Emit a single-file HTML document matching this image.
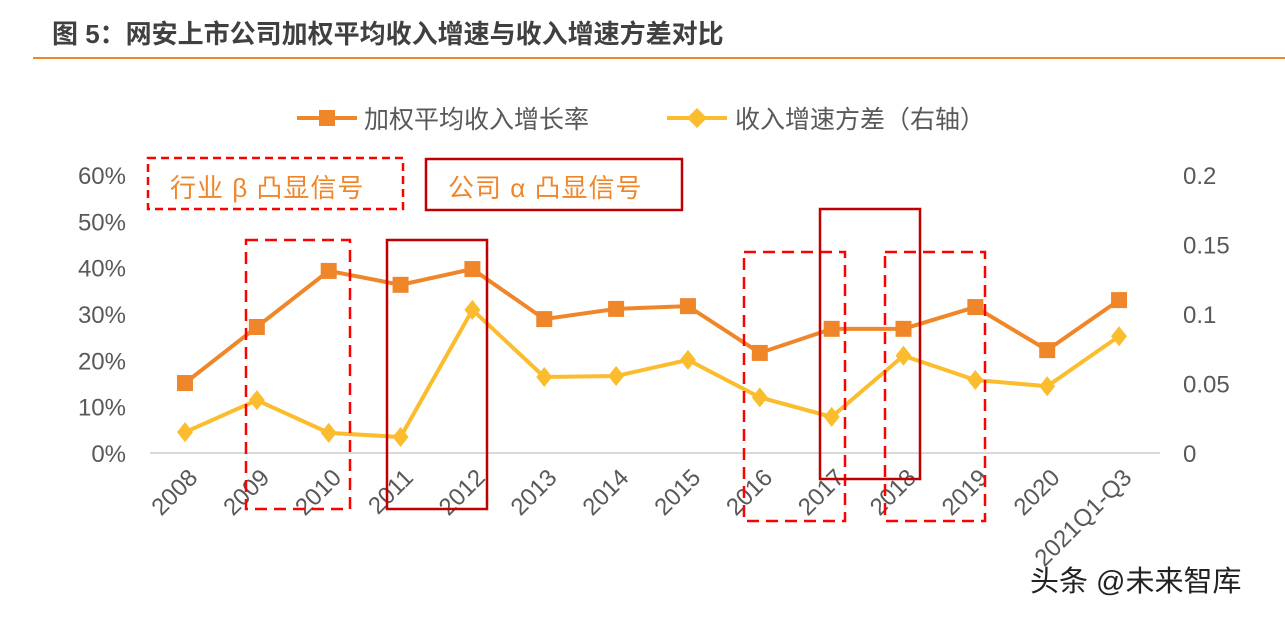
<!DOCTYPE html>
<html><head><meta charset="utf-8"><style>
body{margin:0;background:#fff;width:1285px;height:612px;overflow:hidden;font-family:"Liberation Sans","Noto Sans CJK SC",sans-serif}
</style></head><body>
<svg width="1285" height="612" font-family="Liberation Sans, Noto Sans CJK SC, sans-serif">
<text x="52" y="43" font-size="26" font-weight="bold" fill="#404040">图 5：网安上市公司加权平均收入增速与收入增速方差对比</text>
<line x1="33" y1="58" x2="1285" y2="58" stroke="#f0882a" stroke-width="2"/>
<g>
<g><line x1="297" y1="118" x2="357" y2="118" stroke="#f0862a" stroke-width="4"/><rect x="319" y="110" width="16" height="16" fill="#f0862a"/><text x="364" y="128" font-size="25" fill="#595959">加权平均收入增长率</text></g>
<g><line x1="667" y1="118" x2="727" y2="118" stroke="#fbbc2e" stroke-width="4"/><polygon points="697,108 707,118 697,128 687,118" fill="#fbbc2e"/><text x="735" y="128" font-size="25" fill="#595959">收入增速方差（右轴）</text></g>
</g>
<g><rect x="148" y="158" width="255" height="51" fill="none" stroke="#f00" stroke-width="2.5" stroke-dasharray="8,5"/><text x="170" y="197" font-size="26" fill="#f0862a" letter-spacing="1">行业 β 凸显信号</text></g>
<g><rect x="426" y="159" width="256" height="51" fill="none" stroke="#c00000" stroke-width="2.5"/><text x="448" y="197" font-size="26" fill="#f0862a" letter-spacing="1">公司 α 凸显信号</text></g>
<g id="plot"></g>
</svg>
<script>
const categories=["2008","2009","2010","2011","2012","2013","2014","2015","2016","2017","2018","2019","2020","2021Q1-Q3"];
const growthValues=[15.1,27.2,39.3,36.3,39.7,28.9,31.1,31.7,21.6,26.8,26.8,31.5,22.2,33.0];
const varianceValues=[0.015,0.038,0.0145,0.0115,0.103,0.0547,0.0554,0.067,0.040,0.026,0.070,0.0525,0.048,0.084];
const leftTicks=[0,10,20,30,40,50,60];
const rightTicks=[0,0.05,0.1,0.15,0.2];
const rightTickLabels=["0","0.05","0.1","0.15","0.2"];
const NS="http://www.w3.org/2000/svg";
const g=document.getElementById('plot');
const y0=453,yTop=175;
const yL=v=>y0-(v/60)*(y0-yTop);
const yR=v=>y0-(v/0.2)*(y0-yTop);
const xS=i=>185+i*71.85;
function mk(t,a,p){const e=document.createElementNS(NS,t);for(const k in a)e.setAttribute(k,a[k]);(p||g).appendChild(e);return e;}
let e=mk('line',{x1:150,x2:1160,y1:y0,y2:y0,stroke:'#d9d9d9','stroke-width':2});


leftTicks.forEach(v=>{const t=mk('text',{x:126,y:yL(v)+9,'font-size':24,fill:'#595959','text-anchor':'end'});t.textContent=v+'%';

});
rightTicks.forEach((v,i)=>{const t=mk('text',{x:1183,y:yR(v)+9,'font-size':24,fill:'#595959'});t.textContent=rightTickLabels[i];

});
categories.forEach((c,i)=>{const x=xS(i)+14,y=y0+26;const t=mk('text',{x:x,y:y,'font-size':24,fill:'#595959','text-anchor':'end',transform:`rotate(-45 ${x} ${y})`});t.textContent=c;

});
e=mk('polyline',{points:varianceValues.map((v,i)=>xS(i)+','+yR(v)).join(' '),fill:'none',stroke:'#fbbc2e','stroke-width':4});


varianceValues.forEach((v,i)=>{const x=xS(i),y=yR(v);const p=mk('polygon',{points:`${x},${y-10} ${x+8},${y} ${x},${y+10} ${x-8},${y}`,fill:'#fbbc2e'});

});
e=mk('polyline',{points:growthValues.map((v,i)=>xS(i)+','+yL(v)).join(' '),fill:'none',stroke:'#f0862a','stroke-width':4});


growthValues.forEach((v,i)=>{const r=mk('rect',{x:xS(i)-8,y:yL(v)-8,width:16,height:16,fill:'#f0862a'});

});
const boxes=[[246,240,350,509,1],[387,240,487,509,0],[744,252,845,521,1],[820,209,920,479,0],[885,252,985,521,1]];
boxes.forEach(b=>{const r=mk('rect',{x:b[0],y:b[1],width:b[2]-b[0],height:b[3]-b[1],fill:'none',stroke:b[4]?'#f00':'#c00000','stroke-width':2.5,'stroke-dasharray':b[4]?'12,7':'none'});

});
</script>
<div style="position:absolute;left:1030px;top:558px;font-size:29px;color:#222;font-family:'Liberation Sans','Noto Sans CJK SC',sans-serif">头条 @未来智库</div>
</body></html>
